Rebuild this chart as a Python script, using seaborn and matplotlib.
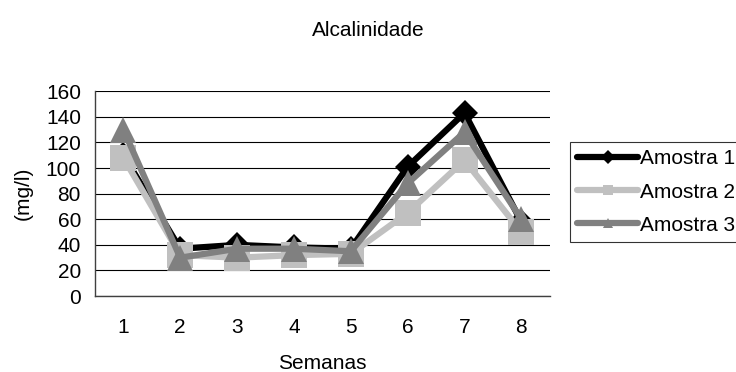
import matplotlib
matplotlib.use("Agg")
import matplotlib.pyplot as plt
import seaborn as sns
import pandas as pd

semanas = [1, 2, 3, 4, 5, 6, 7, 8]
amostra1 = [110, 37, 40, 38, 37, 101, 143, 58]
amostra2 = [108, 32, 30, 32, 33, 65, 106, 50]
amostra3 = [130, 30, 37, 37, 35, 88, 128, 60]
series_names = ["Amostra 1", "Amostra 2", "Amostra 3"]

df = pd.DataFrame({
    "Semanas": semanas * 3,
    "valor": amostra1 + amostra2 + amostra3,
    "serie": [series_names[0]] * 8 + [series_names[1]] * 8 + [series_names[2]] * 8,
})

sns.set_style("white")
plt.rcParams["font.family"] = ["Liberation Sans", "DejaVu Sans"]
plt.rcParams["text.color"] = "black"
plt.rcParams["axes.labelcolor"] = "black"
plt.rcParams["xtick.color"] = "black"
plt.rcParams["ytick.color"] = "black"
FS = 15

fig = plt.figure(figsize=(7.36, 3.72), dpi=100)
ax = fig.add_axes([0.129, 0.204, 0.618, 0.551])

palette = {"Amostra 1": "#000000", "Amostra 2": "#c0c0c0", "Amostra 3": "#808080"}
markers = {"Amostra 1": "D", "Amostra 2": "s", "Amostra 3": "^"}
sizes = {"Amostra 1": 13, "Amostra 2": 18.5, "Amostra 3": 19}

for name in series_names:
    sub = df[df["serie"] == name]
    sns.lineplot(data=sub, x="Semanas", y="valor", ax=ax, color=palette[name],
                 marker=markers[name], markersize=sizes[name], linewidth=4.5,
                 markeredgecolor=palette[name], markeredgewidth=0, label=name, zorder=3)

ax.set_xlim(0.5, 8.5)
ax.set_ylim(0, 160)
ax.set_yticks(range(0, 161, 20))
ax.yaxis.grid(True, color="black", linewidth=0.8)
ax.set_axisbelow(True)

# category boundaries carry the tick marks, the week numbers sit between them
ax.set_xticks([x + 0.5 for x in range(0, 9)])
ax.set_xticklabels([])
ax.set_xticks(semanas, minor=True)
ax.set_xticklabels([str(s) for s in semanas], minor=True)
ax.tick_params(axis="x", which="major", direction="out", length=4.3, width=1, color="#404040")
ax.tick_params(axis="x", which="minor", length=0, pad=16, labelsize=FS)
ax.tick_params(axis="y", direction="out", length=4.3, width=1, color="#404040", labelsize=FS, pad=5.8)

for side in ["top", "right"]:
    ax.spines[side].set_visible(False)
for side in ["left", "bottom"]:
    ax.spines[side].set_color("#404040")
    ax.spines[side].set_linewidth(1)

ax.set_xlabel("Semanas", fontsize=FS)
ax.xaxis.set_label_coords(0.5, -0.327)
ax.xaxis.label.set_va("center")
ax.set_ylabel("(mg/l)", fontsize=FS)
ax.yaxis.set_label_coords(-0.158, 0.5)
ax.yaxis.label.set_va("center")
fig.text(0.5, 0.917, "Alcalinidade", ha="center", va="center", fontsize=FS)

leg = ax.legend(loc="upper left", bbox_to_anchor=(0.7745, 0.618), bbox_transform=fig.transFigure,
                frameon=True, fancybox=False, fontsize=FS, handlelength=2.9,
                handletextpad=0.1, labelspacing=0.68, borderpad=0.35, borderaxespad=0)
leg.get_frame().set_edgecolor("black")
leg.get_frame().set_linewidth(0.8)
for h in leg.legend_handles:
    h.set_markersize(7)

fig.savefig("out.png", dpi=100)
